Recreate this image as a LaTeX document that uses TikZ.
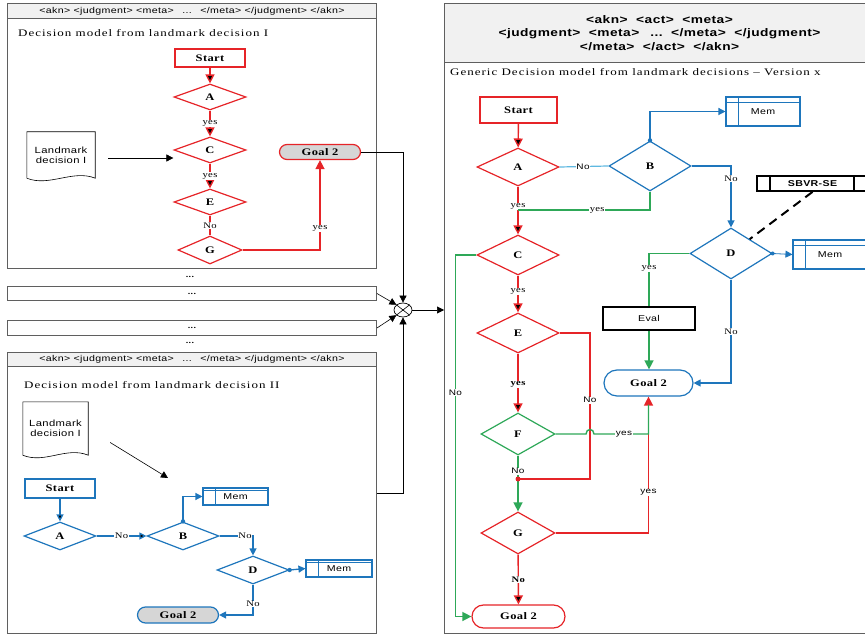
\documentclass[tikz,border=0pt]{standalone}
\usepackage{fontspec}
\setmainfont[FakeStretch=1.25,LetterSpace=4]{Liberation Serif}
\setsansfont[FakeStretch=1.25,LetterSpace=4]{Liberation Sans}
\newfontfamily\titlefont[FakeStretch=1.3,LetterSpace=10]{Liberation Serif}
\usetikzlibrary{arrows.meta,shapes.geometric,shapes.misc,calc}

\definecolor{flowred}{RGB}{230,36,40}
\definecolor{flowblue}{RGB}{30,118,188}
\definecolor{flowgreen}{RGB}{46,168,88}
\definecolor{noblue}{RGB}{95,185,225}
\definecolor{headgray}{RGB}{241,241,241}
\definecolor{goalgray}{RGB}{214,214,214}
\definecolor{framegray}{RGB}{95,95,95}

\tikzset{
  panel/.style={draw=framegray,line width=1pt,anchor=north west,inner sep=0pt},
  head/.style={panel,fill=headgray,font=\sffamily\fontsize{8.5}{9}\selectfont},
  heading/.style={anchor=west,inner sep=0pt,font=\titlefont\fontsize{10}{11}\selectfont},
  startbox/.style={draw,fill=white,line width=1.2pt,inner sep=0pt,font=\bfseries\fontsize{10}{11}\selectfont},
  decision/.style={draw,diamond,fill=white,line width=1.2pt,inner sep=0pt,font=\bfseries\fontsize{10}{11}\selectfont},
  goal/.style={draw,rounded rectangle,line width=1.2pt,inner sep=0pt,font=\bfseries\fontsize{10}{11}\selectfont},
  mem/.style={draw=flowblue,line width=1.1pt,inner sep=0pt,font=\sffamily\fontsize{8.5}{9}\selectfont},
  doc/.style={inner sep=0pt,align=center,font=\sffamily\fontsize{9}{10}\selectfont},
  lab/.style={fill=white,text=black,inner sep=0.6pt,font=\fontsize{8.5}{9}\selectfont},
  slab/.style={lab,font=\sffamily\fontsize{8}{9}\selectfont},
  blab/.style={lab,font=\bfseries\fontsize{8.5}{9}\selectfont},
  redflow/.style={draw=flowred,line width=1.4pt,>={Triangle[width=9pt,length=9pt]}},
  blueflow/.style={draw=flowblue,line width=1.3pt},
  greenflow/.style={draw=flowgreen,line width=1.4pt,>={Triangle[width=9pt,length=9pt]}},
  plain/.style={draw=black,line width=0.6pt}
}

\begin{document}
\begin{tikzpicture}[x=1pt,y=-1pt,>={Triangle[width=7pt,length=7pt]}]
\useasboundingbox (0,0) rectangle (865,636);
\clip (0,0) rectangle (865,636);

% panel: landmark decision I
\draw (7,3) node[panel,minimum width=369,minimum height=265] (panelI) {};
\draw (7,3) node[head,minimum width=369,minimum height=15] (headI) {<akn> <judgment> <meta>\quad ...\quad </meta> </judgment> </akn>};
\draw (18,33) node[heading] (titleI) {Decision model from landmark decision I};
\draw (210,58) node[startbox,draw=flowred,minimum width=70,minimum height=18] (startI) {Start};
\draw (210,97) node[decision,draw=flowred,minimum width=72,minimum height=26] (aI) {A};
\draw (210,150) node[decision,draw=flowred,minimum width=72,minimum height=26] (cI) {C};
\draw (210,202) node[decision,draw=flowred,minimum width=72,minimum height=26] (eI) {E};
\draw (210,250) node[decision,draw=flowred,minimum width=64,minimum height=28] (gI) {G};
\draw (320,152) node[goal,draw=flowred,fill=goalgray,minimum width=81,minimum height=15] (goalI) {Goal 2};
\draw (61,155) node[doc,minimum width=68,minimum height=46] (docI) {Landmark\\decision I};
\path[->,redflow] (startI) edge (aI);
\path[->,redflow] (aI) edge node[lab]{yes} (cI);
\path[->,redflow] (cI) edge node[lab]{yes} (eI);
\path[-,redflow] (eI) edge node[lab]{No} (gI);
\draw[->,redflow] (gI.east) -| node[lab,pos=0.62]{yes} (goalI.south);
\draw[->,plain] ([xshift=13pt,yshift=-3pt]docI.east) -- ([yshift=-3pt]docI.east -| cI.west);

% the other decisions
\draw (190,277) node[font=\bfseries\fontsize{8}{9}\selectfont] (dotsTop) {...};
\draw (7,286) node[panel,minimum width=369,minimum height=14,font=\bfseries\fontsize{8}{9}\selectfont] (dotsA) {...};
\draw (7,320) node[panel,minimum width=369,minimum height=15,font=\bfseries\fontsize{8}{9}\selectfont] (dotsB) {...};
\draw (190,343) node[font=\bfseries\fontsize{8}{9}\selectfont] (dotsBottom) {...};

% panel: landmark decision II
\draw (7,352) node[panel,minimum width=369,minimum height=281] (panelII) {};
\draw (7,352) node[head,minimum width=369,minimum height=14] (headII) {<akn> <judgment> <meta>\quad ...\quad </meta> </judgment> </akn>};
\draw (24,385) node[heading] (titleII) {Decision model from landmark decision II};
\draw (55.5,428.5) node[doc,minimum width=65,minimum height=53] (docII) {Landmark\\decision I};
\coordinate (docIIend) at (168,478);
\draw (60,488.5) node[startbox,draw=flowblue,minimum width=70,minimum height=19] (startII) {Start};
\draw (60,536) node[decision,draw=flowblue,minimum width=72,minimum height=28] (aII) {A};
\draw (183,536) node[decision,draw=flowblue,minimum width=72,minimum height=28] (bII) {B};
\draw (253,570) node[decision,draw=flowblue,minimum width=72,minimum height=28] (dII) {D};
\draw (235.5,496.5) node[mem,minimum width=65,minimum height=17] (memBII) {Mem};
\draw (339,568.5) node[mem,minimum width=66,minimum height=17] (memDII) {Mem};
\draw (178,615) node[goal,draw=flowblue,fill=goalgray,minimum width=81,minimum height=16] (goalII) {Goal 2};
\draw[->,plain] ([xshift=22pt,yshift=-14pt]docII.east) -- (docIIend);
\path[->,blueflow] (startII) edge (aII);
\path[->,blueflow] (aII) edge node[lab]{No} (bII);
\draw[->,blueflow] (bII.north) |- (memBII.west);
\fill[flowblue] (bII.north) circle (2.2);
\draw[->,blueflow] (bII.east) -| node[lab,pos=0.38]{No} (dII.north);
\draw[->,blueflow] (dII.east) -- (memDII.west);
\fill[flowblue] (dII.east) circle (2.2);
\draw[->,blueflow] (dII.south) |- node[lab,pos=0.32]{No} (goalII.east);

% panel: generic model
\draw (444,3) node[panel,minimum width=430,minimum height=630] (panelX) {};
\draw (444,3) node[head,minimum width=430,minimum height=59,align=center,font=\sffamily\bfseries\fontsize{11}{13.5}\selectfont] (headX)
  {<akn>\ \ <act>\ \ <meta>\\<judgment>\ \ <meta>\quad ...\ \ </meta>\ \ </judgment>\\</meta>\ \ </act>\ \ </akn>};
\draw (450,72) node[heading] (titleX) {Generic Decision model from landmark decisions – Version x};
\draw (518.5,110) node[startbox,draw=flowred,minimum width=77,minimum height=26] (startX) {Start};
\draw (518,167) node[decision,draw=flowred,minimum width=82,minimum height=38] (aX) {A};
\draw (650,166) node[decision,draw=flowblue,minimum width=82,minimum height=50] (bX) {B};
\draw (518,255) node[decision,draw=flowred,minimum width=82,minimum height=40] (cX) {C};
\draw (518,333) node[decision,draw=flowred,minimum width=82,minimum height=40] (eX) {E};
\draw (518,434) node[decision,draw=flowgreen,minimum width=74,minimum height=42] (fX) {F};
\draw (518,533) node[decision,draw=flowred,minimum width=74,minimum height=42] (gX) {G};
\draw (518.5,616.5) node[goal,draw=flowred,fill=white,minimum width=93,minimum height=23] (goalR) {Goal 2};
\draw (731,253.5) node[decision,draw=flowblue,minimum width=82,minimum height=51] (dX) {D};
\draw (763,111.5) node[mem,minimum width=74,minimum height=29] (memBX) {Mem};
\draw (830,254.5) node[mem,minimum width=74,minimum height=29] (memDX) {Mem};
\draw (649,318.5) node[draw,line width=1.1pt,minimum width=92,minimum height=23,inner sep=0pt,font=\sffamily\fontsize{8.5}{9}\selectfont] (evalX) {Eval};
\draw (648.5,383) node[goal,draw=flowblue,fill=white,minimum width=89,minimum height=26] (goalB) {Goal 2};
\draw (812.5,183.5) node[draw,line width=1.8pt,minimum width=111,minimum height=15,inner sep=0pt,font=\sffamily\bfseries\fontsize{8.5}{9}\selectfont] (sbvr) {SBVR-SE};
\draw[line width=1.6pt] ([xshift=14pt]sbvr.north west) -- ([xshift=14pt]sbvr.south west)
  ([xshift=-15pt]sbvr.north east) -- ([xshift=-15pt]sbvr.south east);
\coordinate (aJoin) at (518,210);
\coordinate (eTurn) at (590,333);
\coordinate (fJoin) at (518,479);
\path[->,redflow] (startX) edge (aX);
\path[->,redflow] (aX) edge node[lab,pos=0.42]{yes} (cX);
\draw[noblue,line width=1.2pt] (aX.east) -- node[slab,pos=0.48]{No} (bX.west);
\draw[->,blueflow] (bX.north) |- (memBX.west);
\fill[flowblue] (bX.north) circle (2.2);
\draw[->,blueflow] (bX.east) -| node[lab,pos=0.6]{No} (dX.north);
\draw[greenflow] (bX.south) |- node[lab,pos=0.7]{yes} (aJoin);
\draw[->,greenflow] (cX.west) -- ++(-21,0) |- node[slab,pos=0.19]{No} (goalR.west);
\path[->,redflow] (cX) edge node[lab,pos=0.42]{yes} (eX);
\draw[redflow] (eX.east) -- (eTurn) |- node[slab,pos=0.23]{No} (fJoin);
\path[->,redflow] (eX) edge node[blab,pos=0.52]{yes} (fX);
\draw[greenflow] (fX.south) -- node[slab,pos=0.67]{No} (fJoin);
\draw[->,greenflow] (fJoin) -- (gX.north);
\fill[flowred] (fJoin) circle (2.5);
\draw[->,redflow] (gX.east) -| node[slab,pos=0.65]{yes} (goalB.south);
\draw[greenflow,shorten >=8pt] (fX.east) -- ([xshift=-4pt]eTurn |- fX.east)
  .. controls +(0,-6) and +(0,-6) .. ([xshift=4pt]eTurn |- fX.east)
  -- node[slab,pos=0.55]{yes} (goalB.south |- fX.east) -- (goalB.south);
\path[->,redflow] (gX) edge node[blab]{No} (goalR);
\draw[greenflow] (dX.west) -| node[lab,pos=0.64]{yes} (evalX.north);
\draw[->,greenflow] (evalX.south) -- (evalX.south |- goalB.north);
\draw[->,blueflow] (dX.south) |- node[lab,pos=0.25]{No} (goalB.east);
\draw[->,draw=flowblue,line width=0.8pt] (dX.east) -- (memDX.west);
\fill[flowblue] (dX.east) circle (2);
\draw[line width=2pt,dash pattern=on 9pt off 6pt] (sbvr.south) -- ($(dX.north)!0.45!(dX.east)$);

% storage and document outlines
\foreach \m/\h in {memBII/3,memDII/3,memBX/6,memDX/6}{
  \draw[flowblue,line width=1pt] ([xshift=13pt]\m.north west) -- ([xshift=13pt]\m.south west)
    ([yshift=-\h pt]\m.north west) -- ([yshift=-\h pt]\m.north east);
}
\foreach \d in {docI,docII}{
  \draw[line width=0.6pt] (\d.south west) -- (\d.north west) -- (\d.north east) -- (\d.south east)
    .. controls +(-22,-9) and +(22,9) .. (\d.south west);
}

% merge of all decisions
\draw (403,310) node[ellipse,draw,line width=0.7pt,fill=white,minimum width=18,minimum height=14,inner sep=0pt] (merge) {};
\draw[plain] (merge.north west) -- (merge.south east) (merge.north east) -- (merge.south west);
\coordinate (outII) at (panelII.east |- 0,493);
\draw[->,plain] (goalI.east) -| (merge.north);
\draw[->,plain] (dotsA.east) -- (merge.north west);
\draw[->,plain] (dotsB.east) -- (merge.south west);
\draw[->,plain] (outII) -| (merge.south);
\draw[->,plain] (merge.east) -- (panelX.west |- merge.east);
\end{tikzpicture}
\end{document}
